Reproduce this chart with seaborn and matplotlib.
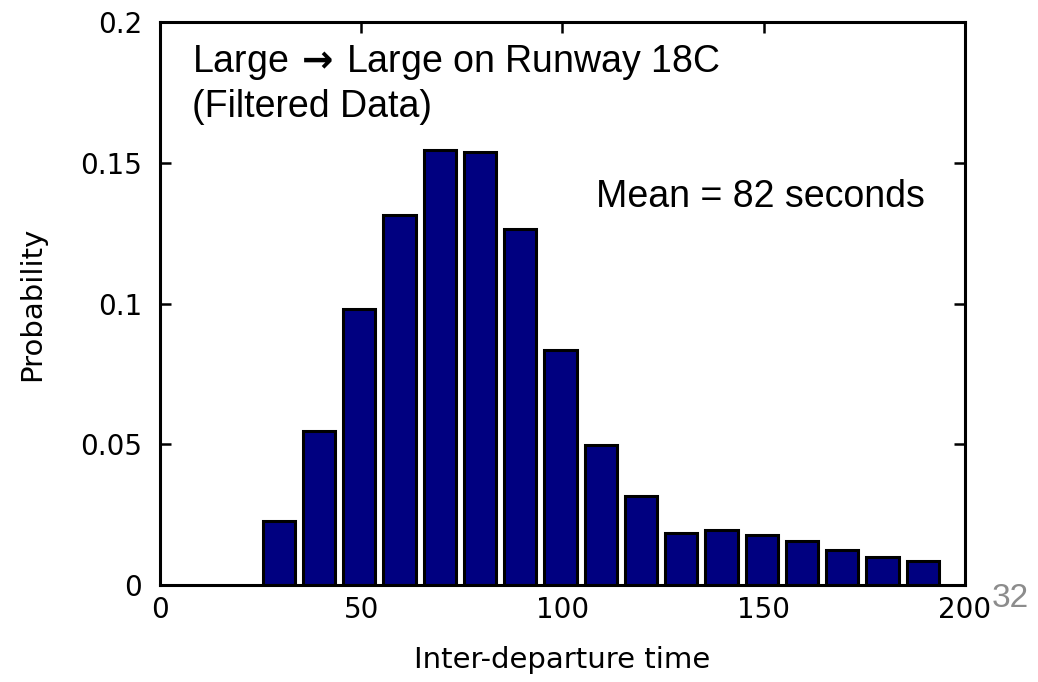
import matplotlib
matplotlib.use("Agg")
import matplotlib.pyplot as plt
import seaborn as sns
import pandas as pd
from matplotlib import font_manager

# Data
bin_centers = [29.5, 39.5, 49.5, 59.5, 69.5, 79.5, 89.5, 99.5, 109.5,
               119.5, 129.5, 139.5, 149.5, 159.5, 169.5, 179.5, 189.5]
probability = [0.0228, 0.0548, 0.0982, 0.1314, 0.1545, 0.1540, 0.1265,
               0.0834, 0.0498, 0.0316, 0.0185, 0.0194, 0.0176, 0.0157,
               0.0125, 0.0098, 0.0086]
x_ticks = [0, 50, 100, 150, 200]
x_ticklabels = ["0", "50", "100", "150", "200"]
y_ticks = [0, 0.05, 0.1, 0.15, 0.2]
y_ticklabels = ["0", "0.05", "0.1", "0.15", "0.2"]
title_lines = "Large$\\,\\mathbf{\\rightarrow}\\,$Large on Runway 18C\n(Filtered Data)"
mean_text = "Mean = 82 seconds"
page_number = "32"

sns.set_theme(style="ticks")
avail = {f.name for f in font_manager.fontManager.ttflist}
narrow = "Liberation Sans Narrow" if "Liberation Sans Narrow" in avail else "DejaVu Sans"
plt.rcParams["font.family"] = ["Liberation Sans", "DejaVu Sans"]
plt.rcParams["mathtext.fontset"] = "dejavusans"
plt.rcParams["text.color"] = "black"
plt.rcParams["axes.labelcolor"] = "black"

df = pd.DataFrame({"t": bin_centers, "p": probability})

fig = plt.figure(figsize=(10.38, 6.82), dpi=100)
ax = fig.add_axes([0.1541, 0.1422, 0.9297 - 0.1541, 0.9677 - 0.1422])

sns.barplot(data=df, x="t", y="p", native_scale=True, width=0.8,
            color="#000080", saturation=1, edgecolor="black",
            linewidth=2.2, ax=ax)

tick_font = [narrow, "DejaVu Sans"]
tick_size = 22 if narrow != "DejaVu Sans" else 20

ax.set_xlim(0, 200)
ax.set_ylim(0, 0.2)
ax.set_xticks(x_ticks)
ax.set_xticklabels(x_ticklabels, family=tick_font, fontsize=tick_size,
                   color="black")
ax.set_yticks(y_ticks)
ax.set_yticklabels(y_ticklabels, family=tick_font, fontsize=tick_size,
                   color="black")
ax.tick_params(direction="in", length=8, width=1.8, top=True, right=True,
               colors="black")
ax.tick_params(axis="y", pad=13)
ax.tick_params(axis="x", pad=8)
for s in ax.spines.values():
    s.set_visible(True)
    s.set_linewidth(2.2)
    s.set_color("black")

ax.set_xlabel("Inter-departure time", family=tick_font,
              fontsize=tick_size + 1, labelpad=16, color="black")
ax.set_ylabel("Probability", family=tick_font, fontsize=tick_size + 1,
              labelpad=24, color="black")

ax.text(0.04, 0.962, title_lines, transform=ax.transAxes, fontsize=27,
        va="top", ha="left", linespacing=1.25,
        family=["Liberation Sans", "DejaVu Sans"], color="black")
ax.text(0.95, 0.69, mean_text, transform=ax.transAxes, fontsize=27,
        va="center", ha="right", family=["Liberation Sans", "DejaVu Sans"],
        color="black")
fig.text(0.955, 0.122, page_number, fontsize=24, color="#8c8c8c",
         ha="left", va="center", family=["Liberation Sans", "DejaVu Sans"])

fig.savefig("out.png", dpi=100, facecolor="white")
